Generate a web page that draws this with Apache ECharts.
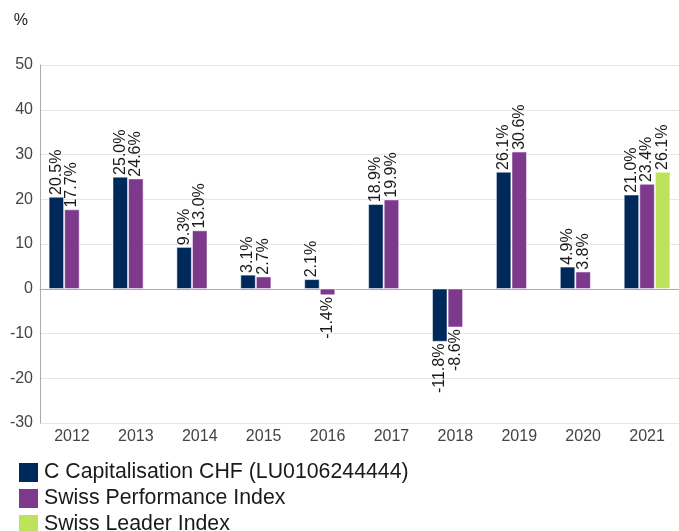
<!DOCTYPE html>
<html>
<head>
<meta charset="utf-8">
<script src="https://cdn.jsdelivr.net/npm/echarts@6/dist/echarts.min.js"></script>
<style>
  html, body { margin: 0; padding: 0; background: #fff; }
  #chart { width: 679px; height: 531px; }
</style>
</head>
<body>
<div id="chart"></div>
<script>
var years = ['2012','2013','2014','2015','2016','2017','2018','2019','2020','2021'];
var fundName = 'C Capitalisation CHF (LU0106244444)';
var spiName = 'Swiss Performance Index';
var sliName = 'Swiss Leader Index';
var fundValues = [20.5, 25.0, 9.3, 3.1, 2.1, 18.9, -11.8, 26.1, 4.9, 21.0];
var spiValues = [17.7, 24.6, 13.0, 2.7, -1.4, 19.9, -8.6, 30.6, 3.8, 23.4];
var sliValues = [null, null, null, null, null, null, null, null, null, 26.1];

// positive labels go up from the bar top, negative ones hang below the bar
function withLabels(arr) {
    return arr.map(function (v) {
        if (v === null) return null;
        return {
            value: v,
            label: v < 0 ? { position: 'bottom', align: 'right' } : { position: 'top', align: 'left' }
        };
    });
}

var barLabel = {
    show: true,
    rotate: 90,
    verticalAlign: 'middle',
    distance: 2,
    fontFamily: 'Liberation Sans, Arial, sans-serif',
    fontSize: 16,
    color: '#1a1a1a',
    formatter: function (p) { return p.value.toFixed(1) + '%'; }
};

function legendAt(name, top) {
    return {
        orient: 'vertical',
        left: 17,
        top: top,
        padding: 0,
        itemWidth: 21,
        itemHeight: 21,
        icon: 'rect',
        textStyle: { fontSize: 21.3, color: '#1a1a1a' },
        data: [name]
    };
}

var myChart = echarts.init(document.getElementById('chart'));
var option = {
    animation: false,
    textStyle: { fontFamily: 'Liberation Sans, Arial, sans-serif' },
    grid: {
        left: 40,
        right: -3,
        top: 65,
        bottom: 108
    },
    legend: [
        legendAt(fundName, 461),
        legendAt(spiName, 487),
        legendAt(sliName, 513)
    ],
    xAxis: {
        type: 'category',
        data: years,
        axisLine: { lineStyle: { color: '#aaa' } },
        axisTick: { show: false },
        axisLabel: { color: '#444', fontSize: 16, margin: 6 }
    },
    yAxis: {
        type: 'value',
        name: '%',
        nameLocation: 'end',
        nameGap: 36,
        nameTextStyle: { color: '#1a1a1a', fontSize: 16, align: 'right', padding: [0, 12, 0, 0] },
        min: -30,
        max: 50,
        interval: 10,
        axisLine: { show: true, lineStyle: { color: '#aaa' } },
        axisTick: { show: false },
        axisLabel: { color: '#444', fontSize: 16, margin: 7 },
        splitLine: { lineStyle: { color: '#e6e6e6' } }
    },
    series: [
        {
            name: fundName,
            type: 'bar',
            barWidth: 15,
            barGap: '4%',
            itemStyle: { color: '#00295b', borderColor: '#ffffff', borderWidth: 0.5 },
            label: barLabel,
            data: withLabels(fundValues)
        },
        {
            name: spiName,
            type: 'bar',
            barWidth: 15,
            barGap: '4%',
            itemStyle: { color: '#7d3a8d', borderColor: '#ffffff', borderWidth: 0.5 },
            label: barLabel,
            data: withLabels(spiValues)
        },
        {
            name: sliName,
            type: 'bar',
            barWidth: 15,
            barGap: '4%',
            itemStyle: { color: '#bde35b', borderColor: '#ffffff', borderWidth: 0.5 },
            label: barLabel,
            data: withLabels(sliValues)
        }
    ]
};
myChart.setOption(option);
</script>
</body>
</html>
